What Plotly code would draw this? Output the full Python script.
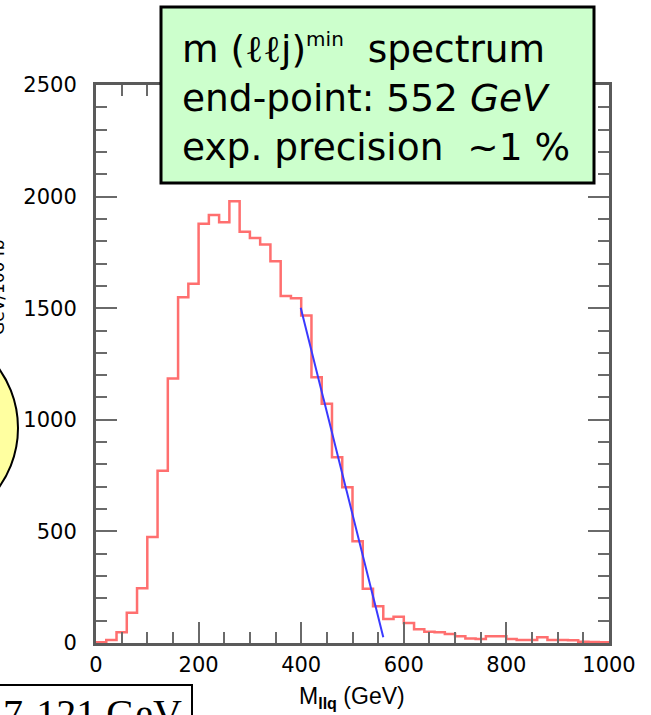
import plotly.graph_objects as go

# m(llq) spectrum, 20 GeV bins from 0 to 1000 GeV
bin_edges = list(range(0, 1001, 20))
counts = [
    3, 14, 48, 135, 245, 475, 772, 1185, 1549, 1609,
    1878, 1918, 1885, 1979, 1843, 1815, 1785, 1710, 1555, 1545,
    1467, 1191, 1072, 832, 698, 456, 243, 165, 108, 118,
    90, 62, 50, 48, 40, 30, 20, 18, 30, 30,
    18, 14, 14, 26, 14, 14, 12, 6, 4, 3,
]

# straight-line fit on the falling edge
fit_x = [399, 560]
fit_y = [1502, 26]

x_ticks = [0, 200, 400, 600, 800, 1000]
y_ticks = [0, 500, 1000, 1500, 2000, 2500]

W, H = 651, 715
L, R, T, B = 96, 42, 85, 72
PW, PH = W - L - R, H - T - B


def px(xp):
    return (xp - L) / PW


def py(yp):
    return (H - B - yp) / PH


fig = go.Figure()

fig.add_trace(go.Scatter(
    x=bin_edges, y=counts + [counts[-1]],
    mode="lines", line=dict(color="#ff6f6f", width=2.5, shape="hv"),
    showlegend=False, hoverinfo="skip",
))
fig.add_trace(go.Scatter(
    x=fit_x, y=fit_y, mode="lines",
    line=dict(color="#3a3aff", width=2),
    showlegend=False, hoverinfo="skip",
))

axis_common = dict(
    showline=True, linecolor="#5a5a5a", linewidth=3, mirror="allticks",
    ticks="inside", ticklen=21, tickwidth=2, tickcolor="#6a6a6a",
    showgrid=False, zeroline=False,
    tickfont=dict(family="DejaVu Sans", size=21, color="black"),
)

fig.update_xaxes(
    range=[0, 1000], tickvals=x_ticks, ticktext=[str(v) for v in x_ticks],
    minor=dict(dtick=50, ticklen=11, tickwidth=2, tickcolor="#6a6a6a", ticks="inside"),
    ticklabelstandoff=1,
    **axis_common,
)
fig.update_yaxes(
    range=[0, 2500], tickvals=y_ticks, ticktext=[str(v) for v in y_ticks],
    minor=dict(dtick=100, ticklen=11, tickwidth=2, tickcolor="#6a6a6a", ticks="inside"),
    ticklabelstandoff=12,
    **axis_common,
)

shapes = [
    # green info box
    dict(type="rect", xref="paper", yref="paper",
         x0=px(161), x1=px(594), y0=py(183), y1=py(7),
         fillcolor="#ccffcc", line=dict(color="black", width=3), layer="above"),
    # yellow bubble on the left edge
    dict(type="circle", xref="paper", yref="paper",
         x0=px(-186), x1=px(18), y0=py(530), y1=py(326),
         fillcolor="#ffffa0", line=dict(color="black", width=2), layer="above"),
    # mass-range box at the bottom left
    dict(type="rect", xref="paper", yref="paper",
         x0=px(-60), x1=px(192), y0=py(760), y1=py(685),
         fillcolor="white", line=dict(color="black", width=2), layer="above"),
]

nb = "\u00a0"
box_lines = [
    f"m{nb}(<span style=\"font-family:'DejaVu Serif'\">ℓℓ</span>j)"
    f"<sup><span style=\"font-size:20px\">min</span></sup>{nb}{nb}spectrum",
    f"end-point:{nb}552{nb}<i>GeV</i>",
    f"exp.{nb}precision{nb}{nb}~1{nb}%",
]

annotations = [
    dict(text="<br>".join(box_lines), x=px(180), y=py(98),
         xref="paper", yref="paper", showarrow=False, xanchor="left", yanchor="middle",
         align="left", font=dict(family="DejaVu Sans", size=37.5, color="black")),
    dict(text="M<sub><b>llq</b></sub> (GeV)", x=px(352), y=py(697),
         xref="paper", yref="paper", showarrow=False, xanchor="center", yanchor="middle",
         font=dict(family="Arial", size=23, color="black")),
    dict(text="7-121 GeV", x=px(1), y=py(713),
         xref="paper", yref="paper", showarrow=False, xanchor="left", yanchor="middle",
         font=dict(family="Liberation Serif", size=40, color="black")),
    dict(text="GeV/100 fb", textangle=-90, x=px(10), y=py(237),
         xref="paper", yref="paper", showarrow=False, xanchor="right", yanchor="top",
         font=dict(family="DejaVu Sans", size=17, color="black")),
]

fig.update_layout(
    width=W, height=H,
    margin=dict(l=L, r=R, t=T, b=B, pad=0),
    paper_bgcolor="white", plot_bgcolor="white",
    shapes=shapes, annotations=annotations,
)

fig.write_html("out.html")
